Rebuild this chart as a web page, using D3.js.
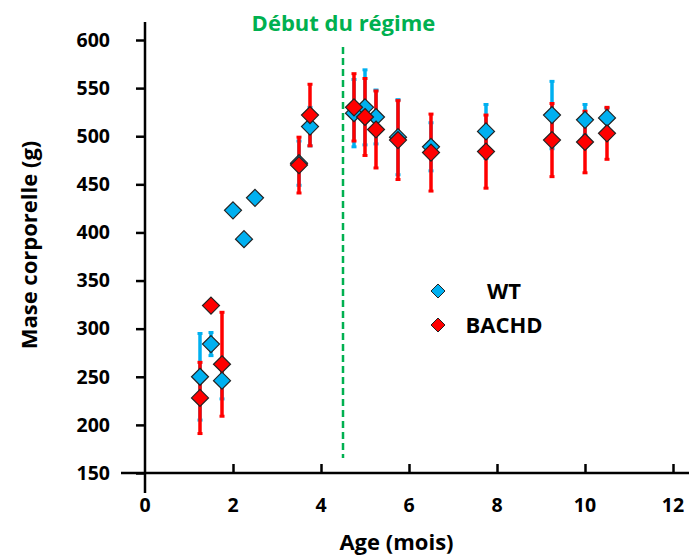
<!DOCTYPE html>
<html>
<head>
<meta charset="utf-8">
<script src="https://cdn.jsdelivr.net/npm/d3@7"></script>
<style>
  body { margin: 0; background: #fff; }
  svg text { font-family: "Open Sans", Lato, sans-serif; font-weight: bold; }
</style>
</head>
<body>
<svg id="chart" width="689" height="557"></svg>
<script>
// valeurs
var wtAge = [1.25, 1.5, 1.75, 2.0, 2.25, 2.5, 3.5, 3.75, 4.75, 5.0, 5.25, 5.75, 6.5, 7.75, 9.25, 10.0, 10.5];
var wtMass = [250, 284, 246, 423, 393, 436, 472, 510, 524, 530, 520, 499, 489, 505, 522, 517, 519];
var wtErr = [45, 12, 19, 0, 0, 0, 23, 20, 35, 39, 28, 39, 25, 28, 35, 16, 10];

var bacAge = [1.25, 1.5, 1.75, 3.5, 3.75, 4.75, 5.0, 5.25, 5.75, 6.5, 7.75, 9.25, 10.0, 10.5];
var bacMass = [228, 324, 263, 470, 522, 530, 520, 507, 496, 483, 484, 496, 494, 503];
var bacErr = [37, 0, 54, 29, 32, 35, 40, 40, 41, 40, 38, 38, 32, 27];

var xTicks = [0, 2, 4, 6, 8, 10, 12];
var yTicks = [150, 200, 250, 300, 350, 400, 450, 500, 550, 600];
var regimeStart = 4.5;

var blue = "#00B0F0", red = "#FF0000", green = "#00B050";

var svg = d3.select("#chart");
var x = d3.scaleLinear().domain([0, 12]).range([145, 673]);
var y = d3.scaleLinear().domain([150, 600]).range([473, 40]);

// axe Y
var yAxis = svg.append("g")
    .attr("transform", "translate(" + x(0) + ",0)")
    .call(d3.axisLeft(y).tickValues(yTicks).tickSize(9).tickPadding(26));
yAxis.select(".domain").remove();
yAxis.selectAll("line").attr("stroke", "#000").attr("stroke-width", 2.5);
yAxis.selectAll("text").attr("font-size", 19.5).attr("fill", "#000")
    .attr("font-family", "'Open Sans', Lato, sans-serif").attr("font-weight", "bold");

// axe X
var xAxis = svg.append("g")
    .attr("transform", "translate(0," + y(150) + ")")
    .call(d3.axisTop(x).tickValues(xTicks.slice(1)).tickSize(9));
xAxis.select(".domain").remove();
xAxis.selectAll("text").remove();
xAxis.selectAll("line").attr("stroke", "#000").attr("stroke-width", 2.5);

svg.append("g").selectAll("text").data(xTicks).join("text")
    .attr("x", d => x(d))
    .attr("y", 512)
    .attr("text-anchor", "middle")
    .attr("font-size", 19.5)
    .text(d => d);

// lignes des axes (elles se croisent)
svg.append("line")
    .attr("x1", x(0)).attr("x2", x(0))
    .attr("y1", y(600) - 18).attr("y2", y(150) + 20)
    .attr("stroke", "#000").attr("stroke-width", 2.5);
svg.append("line")
    .attr("x1", x(0) - 24).attr("x2", 689)
    .attr("y1", y(150)).attr("y2", y(150))
    .attr("stroke", "#000").attr("stroke-width", 2.5);

// début du régime
svg.append("line")
    .attr("x1", x(regimeStart)).attr("x2", x(regimeStart))
    .attr("y1", 47).attr("y2", 458)
    .attr("stroke", green).attr("stroke-width", 2.5)
    .attr("stroke-dasharray", "7,4");
svg.append("text")
    .attr("x", x(regimeStart) + 0.5).attr("y", 31)
    .attr("text-anchor", "middle")
    .attr("font-size", 22)
    .attr("fill", green)
    .text("Début du régime");

// barres d'erreur
function errorBars(ages, vals, errs, color) {
    var d = ages.map((a, i) => ({ a: a, v: vals[i], e: errs[i] })).filter(p => p.e > 0);
    var g = svg.append("g");
    g.selectAll("line.bar").data(d).join("line")
        .attr("x1", p => x(p.a)).attr("x2", p => x(p.a))
        .attr("y1", p => y(p.v - p.e)).attr("y2", p => y(p.v + p.e))
        .attr("stroke", color).attr("stroke-width", 3.5);
    g.selectAll("line.capT").data(d).join("line")
        .attr("x1", p => x(p.a) - 2.5).attr("x2", p => x(p.a) + 2.5)
        .attr("y1", p => y(p.v + p.e)).attr("y2", p => y(p.v + p.e))
        .attr("stroke", color).attr("stroke-width", 3);
    g.selectAll("line.capB").data(d).join("line")
        .attr("x1", p => x(p.a) - 2.5).attr("x2", p => x(p.a) + 2.5)
        .attr("y1", p => y(p.v - p.e)).attr("y2", p => y(p.v - p.e))
        .attr("stroke", color).attr("stroke-width", 3);
}

var diamond = "M0,-8.5L8.5,0L0,8.5L-8.5,0Z";
function markers(ages, vals, color) {
    svg.append("g").selectAll("path").data(ages).join("path")
        .attr("d", diamond)
        .attr("transform", (a, i) => "translate(" + x(a) + "," + y(vals[i]) + ")")
        .attr("fill", color)
        .attr("stroke", "#222").attr("stroke-width", 1.2);
}

errorBars(wtAge, wtMass, wtErr, blue);
errorBars(bacAge, bacMass, bacErr, red);
markers(wtAge, wtMass, blue);
markers(bacAge, bacMass, red);

// légende
var legend = [{ name: "WT", color: blue }, { name: "BACHD", color: red }];
var lg = svg.append("g").selectAll("g").data(legend).join("g")
    .attr("transform", (d, i) => "translate(438," + (291 + i * 34) + ")");
lg.append("path").attr("d", "M0,-7L7,0L0,7L-7,0Z")
    .attr("fill", d => d.color).attr("stroke", "#222").attr("stroke-width", 1);
lg.append("text").attr("x", 66).attr("y", 8)
    .attr("text-anchor", "middle").attr("font-size", 22)
    .text(d => d.name);

// titres des axes
svg.append("text")
    .attr("x", 396.5).attr("y", 550)
    .attr("text-anchor", "middle").attr("font-size", 22)
    .text("Age (mois)");
svg.append("text")
    .attr("transform", "translate(37,245) rotate(-90)")
    .attr("text-anchor", "middle").attr("font-size", 22)
    .text("Mase corporelle (g)");
</script>
</body>
</html>
